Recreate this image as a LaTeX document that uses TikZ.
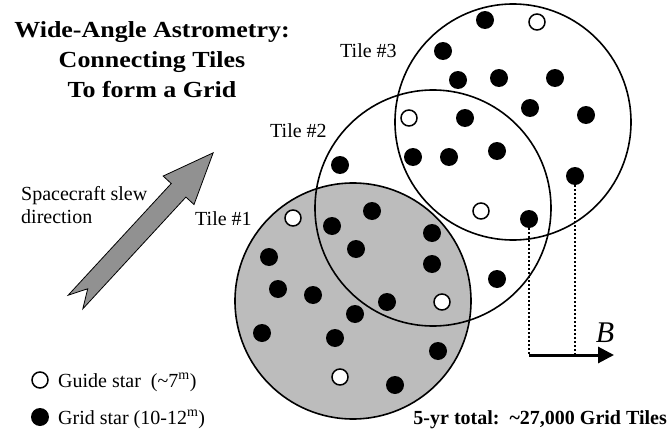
\documentclass[tikz,border=0pt]{standalone}
\usepackage{fontspec}
\setmainfont{Liberation Serif}
\newfontfamily\titlefont[FakeStretch=1.13]{Liberation Serif}
\usetikzlibrary{arrows.meta}
\definecolor{tileGray}{RGB}{188,188,188}
\definecolor{slewGray}{RGB}{145,145,145}

\begin{document}
\begin{tikzpicture}[x=1pt, y=-1pt,
  tile/.style={circle, draw, line width=1.6pt, minimum size=236pt, inner sep=0pt},
  gridstar/.style={circle, fill=black, minimum size=18pt, inner sep=0pt},
  guidestar/.style={circle, draw, fill=white, line width=1.5pt, minimum size=16pt, inner sep=0pt},
  lbl/.style={font=\fontsize{20}{24}\selectfont, inner sep=0pt, anchor=base west},
  headline/.style={font=\titlefont\bfseries\fontsize{23}{30}\selectfont, inner sep=0pt, anchor=base},
  guide/.style={line width=2pt, dash pattern=on 2pt off 2pt},
]
  \useasboundingbox (0,0) rectangle (670,431);

  % title
  \node[headline] (title1) at (152,37) {Wide-Angle Astrometry:};
  \node[headline] (title2) at (152,67) {Connecting Tiles};
  \node[headline] (title3) at (152,97) {To form a Grid};

  % slew arrow
  \begin{scope}[shift={(75.5,302)}, rotate=47.3]
    \draw[line width=0.8pt, fill=slewGray] (0,10) -- (152,10) -- (152,21) -- (203,0)
      -- (152,-21) -- (152,-10) -- (0,-10) -- (18,0) -- cycle;
  \end{scope}
  \node[lbl] (slew1) at (21,200) {Spacecraft slew};
  \node[lbl] (slew2) at (21,223) {direction};

  % tiles
  \node[tile, fill=tileGray] (tile1) at (353,301) {};
  \node[tile] (tile2) at (433,208) {};
  \node[tile] (tile3) at (513,122) {};
  \node[lbl] (tile1lbl) at (195,225) {Tile \#1};
  \node[lbl] (tile2lbl) at (270,137) {Tile \#2};
  \node[lbl] (tile3lbl) at (340,57) {Tile \#3};

  % stars
  \foreach \p [count=\i] in {(485,20), (443,51), (458,80), (499,78), (555,78),
      (530,108), (586,115), (465,118), (413,157), (449,157), (497,151), (340,165),
      (497,279), (372,211), (332,226), (432,233), (269,257), (356,249), (432,264),
      (278,289), (313,295), (387,302), (355,314), (262,333), (335,338), (438,351),
      (395,385)}
    \node[gridstar] (grid\i) at \p {};
  \foreach \p [count=\i] in {(537,22), (409,118), (481,211), (293,218), (442,302),
      (340,377)}
    \node[guidestar] (guide\i) at \p {};
  \node[gridstar] (gA) at (529,219) {};
  \node[gridstar] (gB) at (575,176) {};

  % baseline B
  \coordinate (bstart) at (529,355);
  \coordinate (bend) at (614,355);
  \draw[guide] (gA.south) -- (bstart);
  \draw[guide] (gB.south) -- (gB |- bstart);
  \draw[line width=3pt, -{Triangle[length=16pt, width=16pt]}] (bstart) -- (bend);
  \node[font=\itshape\fontsize{30}{36}\selectfont, inner sep=0pt, anchor=base] (blabel) at (605,342) {B};

  % legend
  \node[guidestar] (keyguide) at (40,380) {};
  \node[lbl] (keyguidelbl) at (58,387) {Guide star\ \ (\textasciitilde7\textsuperscript{m})};
  \node[gridstar] (keygrid) at (40,417) {};
  \node[lbl] (keygridlbl) at (58,424) {Grid star (10-12\textsuperscript{m})};
  \node[lbl, font=\bfseries\fontsize{20}{24}\selectfont, anchor=base east] (total) at (667,424)
    {5-yr total:\ \ \textasciitilde27,000 Grid Tiles};
\end{tikzpicture}
\end{document}
